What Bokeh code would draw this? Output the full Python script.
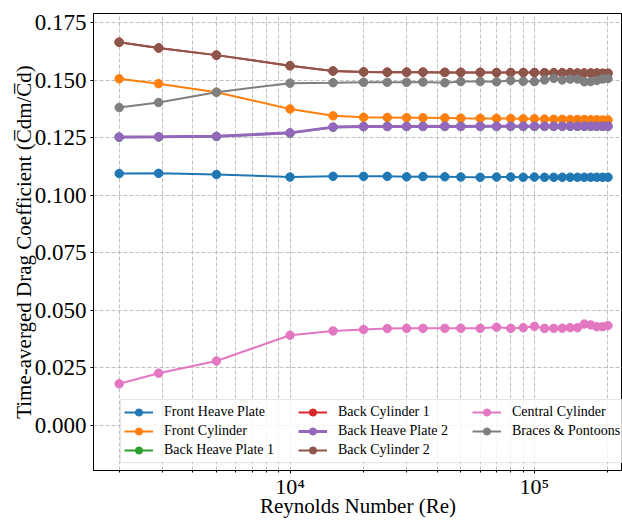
from bokeh.plotting import figure
from bokeh.models import Range1d, FixedTicker, Legend, LegendItem, PrintfTickFormatter
from bokeh.embed import file_html
from bokeh.resources import INLINE

# ---------------- data ----------------
reynolds = [2000, 2900, 5000, 10000, 15000, 20000, 25000, 30000, 35000, 43000,
            50000, 60000, 70000, 80000, 90000, 100000, 110000, 120000, 130000,
            140000, 150000, 160000, 170000, 180000, 190000, 200000]

front_heave_plate = [0.1095, 0.1096, 0.1091, 0.1080, 0.1083, 0.1083, 0.1083, 0.1081, 0.1082, 0.1081,
                     0.1080, 0.1079, 0.1080, 0.1080, 0.1079, 0.1080, 0.1079, 0.1079, 0.1079,
                     0.1079, 0.1079, 0.1079, 0.1079, 0.1079, 0.1079, 0.1079]
front_cylinder = [0.1507, 0.1486, 0.1449, 0.1376, 0.1346, 0.1340, 0.1339, 0.1338, 0.1338, 0.1337,
                  0.1336, 0.1335, 0.1335, 0.1334, 0.1333, 0.1333, 0.1332, 0.1331, 0.1331,
                  0.1330, 0.1330, 0.1330, 0.1329, 0.1329, 0.1328, 0.1328]
back_heave_plate_1 = [0.1253, 0.1254, 0.1256, 0.1271, 0.1296, 0.1299, 0.1300, 0.1300, 0.1300, 0.1300,
                      0.1300, 0.1300, 0.1300, 0.1300, 0.1300, 0.1300, 0.1300, 0.1300, 0.1300,
                      0.1300, 0.1300, 0.1300, 0.1300, 0.1300, 0.1300, 0.1300]
back_cylinder_1 = [0.1666, 0.1641, 0.1610, 0.1564, 0.1541, 0.1537, 0.1536, 0.1536, 0.1536, 0.1535,
                   0.1535, 0.1535, 0.1534, 0.1534, 0.1534, 0.1534, 0.1533, 0.1533, 0.1533,
                   0.1533, 0.1532, 0.1532, 0.1532, 0.1532, 0.1531, 0.1531]
back_heave_plate_2 = [0.1254, 0.1255, 0.1257, 0.1272, 0.1297, 0.1300, 0.1300, 0.1300, 0.1300, 0.1301,
                      0.1300, 0.1301, 0.1301, 0.1301, 0.1301, 0.1301, 0.1301, 0.1301, 0.1301,
                      0.1301, 0.1301, 0.1301, 0.1301, 0.1301, 0.1301, 0.1301]
back_cylinder_2 = [0.1666, 0.1641, 0.1610, 0.1564, 0.1541, 0.1537, 0.1536, 0.1536, 0.1536, 0.1535,
                   0.1535, 0.1535, 0.1534, 0.1534, 0.1534, 0.1534, 0.1533, 0.1533, 0.1533,
                   0.1533, 0.1532, 0.1532, 0.1532, 0.1532, 0.1531, 0.1531]
central_cylinder = [0.0181, 0.0227, 0.0280, 0.0392, 0.0411, 0.0417, 0.0421, 0.0422, 0.0422, 0.0422,
                    0.0422, 0.0422, 0.0427, 0.0422, 0.0425, 0.0431, 0.0422, 0.0422, 0.0423,
                    0.0425, 0.0425, 0.0441, 0.0437, 0.0429, 0.0429, 0.0434]
braces_pontoons = [0.1382, 0.1404, 0.1449, 0.1488, 0.1490, 0.1492, 0.1492, 0.1492, 0.1493, 0.1490,
                   0.1495, 0.1495, 0.1494, 0.1500, 0.1496, 0.1495, 0.1502, 0.1509, 0.1502,
                   0.1506, 0.1506, 0.1494, 0.1495, 0.1500, 0.1506, 0.1508]

series_names = ["Front Heave Plate", "Front Cylinder", "Back Heave Plate 1", "Back Cylinder 1",
                "Back Heave Plate 2", "Back Cylinder 2", "Central Cylinder", "Braces & Pontoons"]
series_values = [front_heave_plate, front_cylinder, back_heave_plate_1, back_cylinder_1,
                 back_heave_plate_2, back_cylinder_2, central_cylinder, braces_pontoons]
series_colors = ["#1f77b4", "#ff7f0e", "#2ca02c", "#d62728",
                 "#9467bd", "#8c564b", "#e377c2", "#7f7f7f"]
series_widths = [2, 2, 2, 2, 3, 2, 2, 2]

y_ticks = [0.0, 0.025, 0.05, 0.075, 0.1, 0.125, 0.15, 0.175]
x_major_ticks = [10000, 100000]
x_minor_ticks = [m * d for d in (1000, 10000, 100000) for m in range(2, 10)]
x_tick_labels = {10000: "10⁴", 100000: "10⁵"}

FONT = "Liberation Serif"

p = figure(width=622, height=522, x_axis_type="log", output_backend="svg", toolbar_location=None,
           x_range=Range1d(1570, 229300), y_range=Range1d(-0.0196, 0.1791),
           min_border_left=93, min_border_right=0, min_border_top=13, min_border_bottom=52)

p.background_fill_color = "white"
p.border_fill_color = "white"
p.outline_line_color = "black"
p.outline_line_width = 1
p.outline_line_alpha = 1

items = []
for name, vals, col, lw in zip(series_names, series_values, series_colors, series_widths):
    rl = p.line(reynolds, vals, line_color=col, line_width=lw)
    rs = p.scatter(reynolds, vals, size=8.5, fill_color=col, line_color=col)
    items.append(LegendItem(label=name, renderers=[rl, rs]))

# axes
xt = FixedTicker(ticks=x_major_ticks, minor_ticks=x_minor_ticks)
xax = p.xaxis[0]
yax = p.yaxis[0]
xax.ticker = xt
p.xgrid.ticker = xt
xax.major_label_overrides = x_tick_labels
yt = FixedTicker(ticks=y_ticks, minor_ticks=[])
yax.ticker = yt
p.ygrid.ticker = yt
yax.formatter = PrintfTickFormatter(format="%.3f")

for ax in (xax, yax):
    ax.axis_line_color = "black"
    ax.major_tick_line_color = "black"
    ax.minor_tick_line_color = "black"
    ax.major_tick_in = 0
    ax.major_tick_out = 3
    ax.minor_tick_in = 0
    ax.minor_tick_out = 2
    ax.major_label_text_color = "black"
    ax.major_label_text_font = FONT
    ax.axis_label_text_font = FONT
    ax.axis_label_text_font_size = "21px"
    ax.axis_label_text_font_style = "normal"
    ax.axis_label_text_color = "black"

xax.major_label_text_font_size = "22px"
yax.major_label_text_font_size = "23px"

xax.axis_label = "Reynolds Number (Re)"
yax.axis_label = "Time-averged Drag Coefficient (C\u0305dm/C\u0305d)"
xax.major_label_standoff = 0
xax.axis_label_standoff = -8
yax.major_label_standoff = 4
yax.axis_label_standoff = -4

for g in (p.xgrid, p.ygrid):
    g.grid_line_color = "#b0b0b0"
    g.grid_line_dash = "4 2"
    g.grid_line_width = 0.8
p.xgrid.minor_grid_line_color = "#b0b0b0"
p.xgrid.minor_grid_line_dash = "4 2"
p.xgrid.minor_grid_line_width = 0.8

legend = Legend(items=items, location=(27, 7), orientation="vertical", nrows=3)
legend.label_text_font = FONT
legend.label_text_font_size = "14px"
legend.label_text_color = "black"
legend.glyph_width = 29
legend.glyph_height = 18
legend.label_height = 18
legend.label_width = 133
legend.label_standoff = 11
legend.spacing = 1
legend.padding = 3
legend.margin = 0
legend.border_line_color = "#cccccc"
legend.border_line_width = 1
legend.background_fill_color = "white"
legend.background_fill_alpha = 0.8
p.add_layout(legend)

open("out.html", "w").write(file_html(p, INLINE))
